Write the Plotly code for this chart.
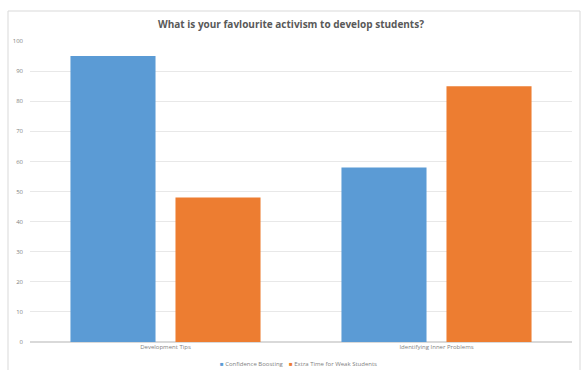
import plotly.graph_objects as go

categories = ["Development Tips", "Identifying Inner Problems"]
confidence_boosting = [95, 58]
extra_time = [48, 85]
y_ticks = [0, 10, 20, 30, 40, 50, 60, 70, 80, 90, 100]
series_names = ["Confidence Boosting", "Extra Time for Weak Students"]
series_colors = ["#5b9bd5", "#ed7d31"]

fig = go.Figure()
for name, vals, col in zip(series_names, [confidence_boosting, extra_time], series_colors):
    fig.add_trace(go.Bar(name=name, x=categories, y=vals, showlegend=False,
                         marker=dict(color=col, line=dict(width=0))))

legend_text = "&nbsp;&nbsp;&nbsp;&nbsp;".join(
    f"<span style='color:{c}'>■</span> {n}" for n, c in zip(series_names, series_colors))

fig.update_layout(
    width=582, height=370,
    margin=dict(l=30, r=10, t=41, b=28),
    paper_bgcolor="white", plot_bgcolor="white",
    barmode="group", bargap=0.225, bargroupgap=0.19,
    font=dict(family="Open Sans", size=6, color="#7f7f7f"),
    showlegend=False,
    title=dict(text="<b>What is your favlourite activism to develop students?</b>",
               x=0.5, xanchor="center", y=1 - 24 / 370, yanchor="middle",
               font=dict(size=10, color="#595959", family="Open Sans")),
    xaxis=dict(showgrid=False, showline=False, ticks="", automargin=False,
               tickfont=dict(size=6, color="#7f7f7f")),
    yaxis=dict(range=[0, 100], tickvals=y_ticks, showgrid=True, gridcolor="#e8e8e8",
               gridwidth=1, zeroline=True, zerolinecolor="#d9d9d9", showline=False,
               automargin=False, ticks="", ticklabelstandoff=6,
               tickfont=dict(size=6, color="#7f7f7f")),
    annotations=[dict(text=legend_text, xref="paper", yref="paper",
                      x=(298 - 30) / 542, y=-(364 - 342) / 301,
                      xanchor="center", yanchor="middle", showarrow=False,
                      font=dict(size=6, color="#7f7f7f"))],
    shapes=[dict(type="rect", xref="paper", yref="paper",
                 x0=(8 - 30) / 542, x1=(580 - 30) / 542,
                 y0=-0.2, y1=1 + 30 / 301,
                 line=dict(color="#d9d9d9", width=1), layer="below")],
)

fig.write_html("out.html")
